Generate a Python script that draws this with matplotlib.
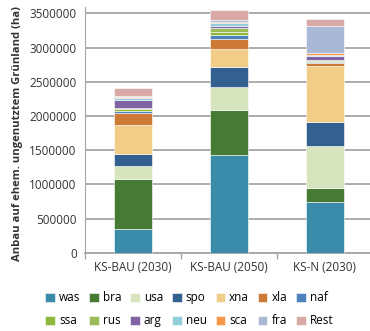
import numpy as np
import matplotlib
matplotlib.use('Agg')
import matplotlib.pyplot as plt

plt.rcParams['font.family'] = ['Open Sans', 'DejaVu Sans']

scenarios = ['KS-BAU (2030)', 'KS-BAU (2050)', 'KS-N (2030)']
regions = ['was', 'bra', 'usa', 'spo', 'xna', 'xla', 'naf',
           'ssa', 'rus', 'arg', 'neu', 'sca', 'fra', 'Rest']

# hectares per region, one list per scenario
ks_bau_2030 = [351000, 726000, 190000, 171000, 429000, 181000, 20000,
               35000, 20000, 107000, 30000, 20000, 12000, 112000]
ks_bau_2050 = [1424000, 663000, 341000, 293000, 263000, 136000, 60000,
               50000, 55000, 35000, 35000, 25000, 25000, 144000]
ks_n_2030 = [736000, 215000, 614000, 346000, 819000, 39000, 25000,
             12000, 12000, 60000, 13000, 25000, 395000, 107000]

colors = ['#3A8BA9', '#477A35', '#D7E4BD', '#34608F', '#F2CD88', '#CC7A35', '#4F81BD',
          '#8DB83C', '#9BBB59', '#8064A2', '#92CDDC', '#F79646', '#A9B8D6', '#D9A9A8']

data = np.array([ks_bau_2030, ks_bau_2050, ks_n_2030])

fig = plt.figure(figsize=(3.7, 3.31), dpi=100)
ax = fig.add_axes([0.2297, 0.2366, 0.778, 0.7435])

x = np.arange(len(scenarios))
bottom = np.zeros(len(scenarios))
handles = []
for i, reg in enumerate(regions):
    h = ax.bar(x, data[:, i], bottom=bottom, width=0.4, color=colors[i],
               edgecolor='white', linewidth=0.4, label=reg, zorder=3)
    handles.append(h)
    bottom += data[:, i]

ax.set_ylim(0, 3600000)
ax.set_xlim(-0.5, 2.5)
ax.set_yticks(np.arange(0, 3500001, 500000))
ax.set_yticklabels([str(v) for v in range(0, 3500001, 500000)], fontsize=8.5, color='#333333')
ax.yaxis.grid(True, color='#A6A6A6', linewidth=1.3, zorder=0)
ax.tick_params(axis='y', length=0, pad=6)

ax.set_xticks(x)
ax.set_xticklabels(scenarios, fontsize=8.5, color='#333333')
ax.set_xticks([-0.5, 0.5, 1.5, 2.5], minor=True)
ax.tick_params(axis='x', which='major', length=0, pad=6)
ax.tick_params(axis='x', which='minor', length=4, color='#A6A6A6', width=1)

for s in ['top', 'right']:
    ax.spines[s].set_visible(False)
ax.spines['left'].set_color('#A6A6A6')
ax.spines['bottom'].set_color('#A6A6A6')
ax.spines['bottom'].set_linewidth(1.3)

ax.set_ylabel('Anbau auf ehem. ungenutztem Grünland (ha)', fontsize=8.1,
              fontweight='bold', color='#333333', labelpad=4)
ax.yaxis.set_label_coords(-0.215, 0.485)

# legend is filled column by column, so interleave the two rows
order = []
for j in range(7):
    order += [j, j + 7]
fig.legend([handles[k] for k in order], [regions[k] for k in order],
           loc='center', bbox_to_anchor=(0.512, 0.066), ncol=7, frameon=False,
           fontsize=8.5, handlelength=0.8, handleheight=0.8, handletextpad=0.35,
           columnspacing=0.75, labelspacing=0.85, borderaxespad=0)

fig.savefig('out.png', dpi=100)
